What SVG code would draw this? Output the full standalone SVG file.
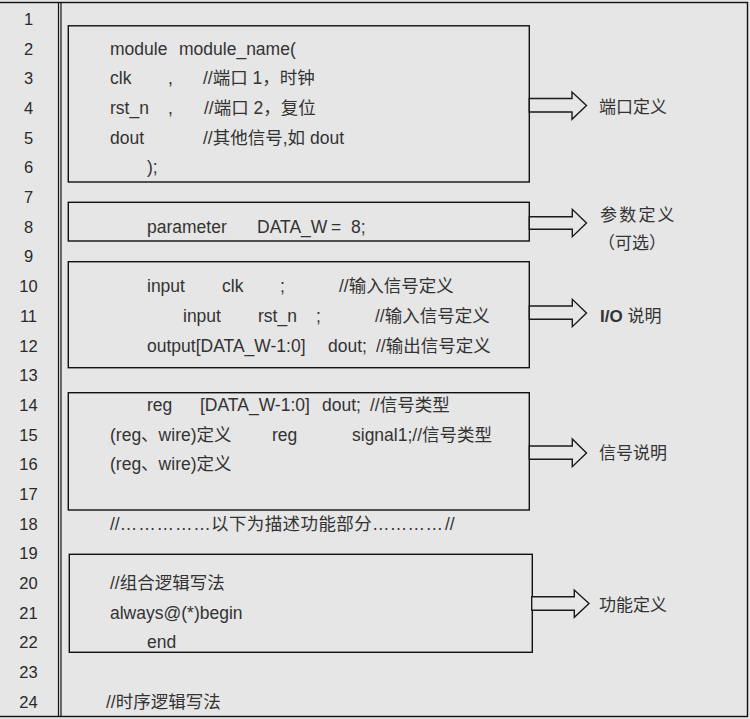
<svg xmlns="http://www.w3.org/2000/svg" width="750" height="719" viewBox="0 0 750 719">
<style>
text{font-family:"Liberation Sans","Noto Sans CJK SC",sans-serif;fill:#333;}
.ln{font-size:16.5px;text-anchor:middle;fill:#2a2a2a;}
.c{font-size:17.5px;}
.lb{font-size:17px;fill:#333;}
.box{fill:none;stroke:#111;stroke-width:1.4;}
.frame{fill:none;stroke:#111;stroke-width:1.4;}
.arr{fill:#e6e6e6;stroke:#1a1a1a;stroke-width:1.4;stroke-linejoin:miter;}
</style>
<rect x="0" y="0" width="750" height="719" fill="#e6e6e6"/>
<g id="frame">
<rect class="frame" x="-2" y="2.5" width="749.5" height="714"/>
<line x1="58.5" y1="2.5" x2="58.5" y2="716.5" stroke="#111" stroke-width="1.2"/>
<line x1="61" y1="2.5" x2="61" y2="716.5" stroke="#111" stroke-width="1.2"/>
</g>
<g id="line-numbers">
<text class="ln" x="28.5" y="25">1</text>
<text class="ln" x="28.5" y="54.7">2</text>
<text class="ln" x="28.5" y="84.4">3</text>
<text class="ln" x="28.5" y="114">4</text>
<text class="ln" x="28.5" y="143.7">5</text>
<text class="ln" x="28.5" y="173.4">6</text>
<text class="ln" x="28.5" y="203.1">7</text>
<text class="ln" x="28.5" y="232.8">8</text>
<text class="ln" x="28.5" y="262.4">9</text>
<text class="ln" x="28.5" y="292.1">10</text>
<text class="ln" x="28.5" y="321.8">11</text>
<text class="ln" x="28.5" y="351.5">12</text>
<text class="ln" x="28.5" y="381.2">13</text>
<text class="ln" x="28.5" y="410.8">14</text>
<text class="ln" x="28.5" y="440.5">15</text>
<text class="ln" x="28.5" y="470.2">16</text>
<text class="ln" x="28.5" y="499.9">17</text>
<text class="ln" x="28.5" y="529.6">18</text>
<text class="ln" x="28.5" y="559.2">19</text>
<text class="ln" x="28.5" y="588.9">20</text>
<text class="ln" x="28.5" y="618.6">21</text>
<text class="ln" x="28.5" y="648.3">22</text>
<text class="ln" x="28.5" y="678">23</text>
<text class="ln" x="28.5" y="707.6">24</text>
</g>
<g id="box-ports">
<rect class="box" x="68.3" y="25.8" width="461" height="156.2"/>
<text class="c" x="110" y="54.7">module<tspan x="179">module_name(</tspan></text>
<text class="c" x="110" y="84.4">clk<tspan x="168">,</tspan><tspan x="203">//端口 1，时钟</tspan></text>
<text class="c" x="110" y="114">rst_n<tspan x="168">,</tspan><tspan x="204">//端口 2，复位</tspan></text>
<text class="c" x="110" y="143.7">dout<tspan x="203">//其他信号,如 dout</tspan></text>
<text class="c" x="147" y="173.4">);</text>
</g>
<g id="box-param">
<rect class="box" x="68.3" y="202.3" width="461" height="38.7"/>
<text class="c" x="147" y="232.8">parameter<tspan x="257">DATA_W</tspan><tspan x="331">=</tspan><tspan x="351">8;</tspan></text>
</g>
<g id="box-io">
<rect class="box" x="68.3" y="261.7" width="461" height="106"/>
<text class="c" x="147" y="292.1">input<tspan x="222">clk</tspan><tspan x="280">;</tspan><tspan x="339">//输入信号定义</tspan></text>
<text class="c" x="183" y="321.8">input<tspan x="258">rst_n</tspan><tspan x="316">;</tspan><tspan x="375">//输入信号定义</tspan></text>
<text class="c" x="147" y="351.5">output[DATA_W-1:0]<tspan x="328">dout;</tspan><tspan x="376">//输出信号定义</tspan></text>
</g>
<g id="box-signals">
<rect class="box" x="68.3" y="392.7" width="461" height="117.3"/>
<text class="c" x="147" y="410.8">reg<tspan x="200">[DATA_W-1:0]</tspan><tspan x="322">dout;</tspan><tspan x="370">//信号类型</tspan></text>
<text class="c" x="110" y="440.5">(reg、wire)定义<tspan x="272">reg</tspan><tspan x="352">signal1;//信号类型</tspan></text>
<text class="c" x="110" y="470.2">(reg、wire)定义</text>
</g>
<g id="separator">
<text class="c" x="110" y="529.6">//<tspan letter-spacing="0.9">……………</tspan><tspan x="211" letter-spacing="0.4">以下为描述功能部分</tspan><tspan x="372" letter-spacing="0.3">…………</tspan><tspan x="445">//</tspan></text>
</g>
<g id="box-function">
<rect class="box" x="69.3" y="554.3" width="463" height="98"/>
<text class="c" x="110" y="588.9">//组合逻辑写法</text>
<text class="c" x="110" y="618.6">always@(*)begin</text>
<text class="c" x="147" y="648.3">end</text>
</g>
<g id="trailer">
<text class="c" x="106" y="707.6">//时序逻辑写法</text>
</g>
<g id="connectors">
<polygon class="arr" points="529.3,98.5 572,98.5 572,92 586.5,105.5 572,119.3 572,112 529.3,112"/>
<polygon class="arr" points="529.3,216.7 572.3,216.7 572.3,209.3 586.5,223 572.3,236.7 572.3,229.3 529.3,229.3"/>
<polygon class="arr" points="529.3,306 572.3,306 572.3,299.3 586.5,313 572.3,326.7 572.3,319.3 529.3,319.3"/>
<polygon class="arr" points="529.3,446 572.3,446 572.3,439 586.5,453 572.3,466.7 572.3,459.3 529.3,459.3"/>
<polygon class="arr" points="531.7,596.7 574.3,596.7 574.3,590 589,603.5 574.3,617.3 574.3,610.3 531.7,610.3"/>
</g>
<g id="label-ports"><text class="lb" x="599" y="113">端口定义</text></g>
<g id="label-param">
<text class="lb" x="600" y="221" letter-spacing="2.2">参数定义</text>
<text class="lb" x="598" y="249">（可选）</text>
</g>
<g id="label-io"><text class="lb" x="600" y="322"><tspan font-weight="bold">I/O</tspan> 说明</text></g>
<g id="label-signals"><text class="lb" x="599" y="459">信号说明</text></g>
<g id="label-function"><text class="lb" x="599" y="611">功能定义</text></g>
</svg>
